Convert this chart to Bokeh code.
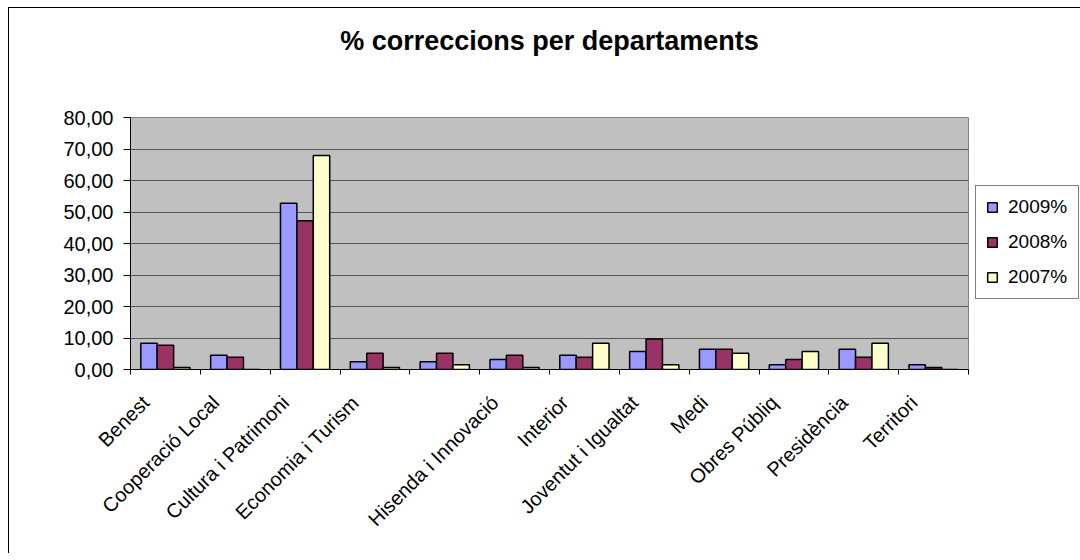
import math
from bokeh.plotting import figure
from bokeh.models import FixedTicker, Legend, LegendItem, ColumnDataSource, Range1d, Title
from bokeh.embed import file_html
from bokeh.resources import INLINE

departments = ["Benest", "Cooperació Local", "Cultura i Patrimoni", "Economia i Turism", "",
               "Hisenda i Innovació", "Interior", "Joventut i Igualtat", "Medi",
               "Obres Públiq", "Presidència", "Territori"]
series_names = ["2009%", "2008%", "2007%"]
v2009 = [8.33, 4.55, 52.80, 2.50, 2.50, 3.20, 4.55, 5.70, 6.40, 1.50, 6.40, 1.50]
v2008 = [7.69, 3.85, 47.20, 5.15, 5.15, 4.50, 3.85, 9.70, 6.40, 3.20, 3.85, 0.65]
v2007 = [0.65, 0.00, 67.90, 0.65, 1.50, 0.65, 8.33, 1.50, 5.15, 5.70, 8.33, 0.00]
y_ticks = [0, 10, 20, 30, 40, 50, 60, 70, 80]
y_tick_labels = ["0,00", "10,00", "20,00", "30,00", "40,00", "50,00", "60,00", "70,00", "80,00"]
colors = ["#9999FF", "#993366", "#FFFFCC"]
chart_title = "% correccions per departaments"

n = len(departments)
centers = [i + 0.5 for i in range(n)]
bounds = [float(i) for i in range(n + 1)]
bw = 0.235
offsets = [-bw, 0.0, bw]

FONT = "Liberation Sans"
PAD = "\u00a0" * 5  # pushes rotated labels a little down-left of the tick

p = figure(frame_width=838, frame_height=252, output_backend="svg", toolbar_location=None,
           x_range=Range1d(0, n), y_range=Range1d(0, 80),
           min_border_left=121, min_border_right=112, min_border_top=108, min_border_bottom=184,
           title=None)
p.styles = {"margin-left": "8px", "margin-top": "7px",
            "border-left": "1px solid black", "border-top": "1px solid black"}

# spacer between frame and title (closest to the frame), then the title above it
spacer = Title(text=" ", text_font_size="1px", standoff=44)
p.add_layout(spacer, "above")
main_title = Title(text=chart_title, text_font=FONT, text_font_size="27px",
                   text_font_style="bold", text_color="black", align="center",
                   standoff=30, offset=12)
p.add_layout(main_title, "above")

p.background_fill_color = "#C0C0C0"
p.border_fill_color = "white"
p.outline_line_color = "#808080"
p.outline_line_width = 1

p.xgrid.grid_line_color = None
p.ygrid.ticker = FixedTicker(ticks=y_ticks)
p.ygrid.grid_line_color = "#555555"
p.ygrid.grid_line_width = 1

renderers = []
for vals, off, col in zip([v2009, v2008, v2007], offsets, colors):
    src = ColumnDataSource(dict(x=[c + off for c in centers], top=vals))
    r = p.vbar(x="x", top="top", width=bw, source=src, fill_color=col,
               line_color="black", line_width=1.5)
    renderers.append(r)

# x axis
p.xaxis.ticker = FixedTicker(ticks=centers, minor_ticks=bounds)
p.xaxis.major_label_overrides = {c: (lab + PAD if lab else lab) for c, lab in zip(centers, departments)}
p.xaxis.major_label_orientation = math.pi / 4
p.xaxis.major_tick_line_color = None
p.xaxis.major_tick_out = 0
p.xaxis.major_tick_in = 0
p.xaxis.minor_tick_line_color = "black"
p.xaxis.minor_tick_out = 5
p.xaxis.minor_tick_in = 0
p.xaxis.axis_line_color = "black"
p.xaxis.major_label_text_font = FONT
p.xaxis.major_label_text_font_size = "20px"
p.xaxis.major_label_text_color = "black"

# y axis
p.yaxis.ticker = FixedTicker(ticks=y_ticks)
p.yaxis.major_label_overrides = {t: lab for t, lab in zip(y_ticks, y_tick_labels)}
p.yaxis.major_tick_out = 7
p.yaxis.major_tick_in = 0
p.yaxis.minor_tick_line_color = None
p.yaxis.axis_line_color = "black"
p.yaxis.major_label_text_font = FONT
p.yaxis.major_label_text_font_size = "20px"
p.yaxis.major_label_text_color = "black"
p.yaxis.major_label_standoff = 10

legend = Legend(items=[LegendItem(label=nm, renderers=[r]) for nm, r in zip(series_names, renderers)],
                location=(7, 70), orientation="vertical")
legend.label_text_font = FONT
legend.label_text_font_size = "19px"
legend.label_text_color = "black"
legend.glyph_width = 12
legend.glyph_height = 12
legend.label_standoff = 10
legend.label_height = 20
legend.spacing = 13
legend.padding = 10
legend.margin = 0
legend.label_width = 60
legend.border_line_color = "black"
legend.border_line_width = 1
legend.background_fill_color = "white"
p.add_layout(legend, "right")

open("out.html", "w").write(file_html(p, INLINE))
